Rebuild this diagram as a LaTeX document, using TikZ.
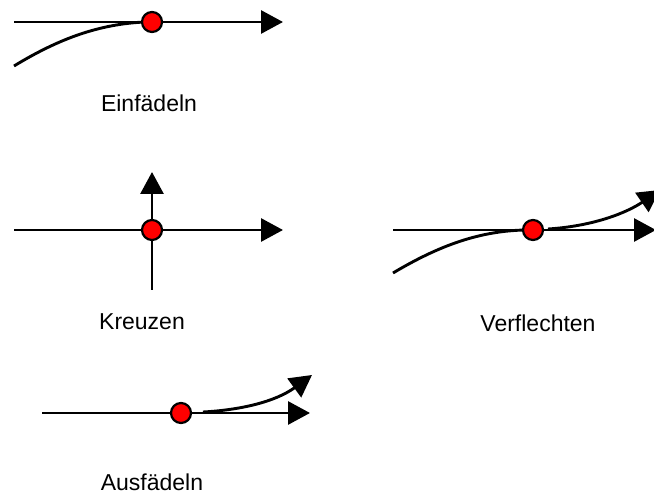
\documentclass[tikz,border=0pt]{standalone}
\usepackage{fontspec}
\setmainfont{Liberation Sans}
\usetikzlibrary{arrows.meta}
\begin{document}
\begin{tikzpicture}[x=1pt,y=-1pt,
  road/.style={line width=2.9pt,black},
  arr/.style={road,-{Triangle[length=22pt,width=23pt]}},
  pt/.style={circle,draw=black,fill=red,line width=2.2pt,minimum size=20pt,inner sep=0pt},
  lbl/.style={font=\fontsize{23}{27}\selectfont,inner sep=0pt}]
\useasboundingbox (0,0) rectangle (654,497);
% Einfaedeln
\coordinate (e1) at (14,22);
\coordinate (e2) at (283,22);
\coordinate (ec) at (14,66);
\coordinate (em) at (145,22);
\draw[road] (ec) .. controls (60,38) and (100,24) .. (em);
\draw[arr] (e1) -- (e2);
\node[pt] (ep) at (152,22) {};
\node[lbl] (el) at (149,103) {Einfädeln};
% Kreuzen
\coordinate (k1) at (14,230);
\coordinate (k2) at (283,230);
\coordinate (k3) at (152,290);
\coordinate (k4) at (152,172);
\draw[arr] (k1) -- (k2);
\draw[arr] (k3) -- (k4);
\node[pt] (kp) at (152,230) {};
\node[lbl] (kl) at (142,322) {Kreuzen};
% Verflechten
\coordinate (v1) at (393,230);
\coordinate (v2) at (656,230);
\coordinate (vc) at (393,273);
\coordinate (vm) at (525,230);
\coordinate (vs) at (548,229);
\coordinate (vt) at (660,190);
\draw[road] (vc) .. controls (440,245) and (480,231) .. (vm);
\draw[arr] (v1) -- (v2);
\draw[arr] (vs) .. controls (595,226) and (628,212) .. (vt);
\node[pt] (vp) at (533,230) {};
\node[lbl] (vl) at (538,323) {Verflechten};
% Ausfaedeln
\coordinate (a1) at (42,413);
\coordinate (a2) at (310,413);
\coordinate (as) at (203,412);
\coordinate (at) at (312,375);
\draw[arr] (a1) -- (a2);
\draw[arr] (as) .. controls (240,410) and (275,402) .. (at);
\node[pt] (ap) at (181,413) {};
\node[lbl] (al) at (152,482) {Ausfädeln};
\end{tikzpicture}
\end{document}
